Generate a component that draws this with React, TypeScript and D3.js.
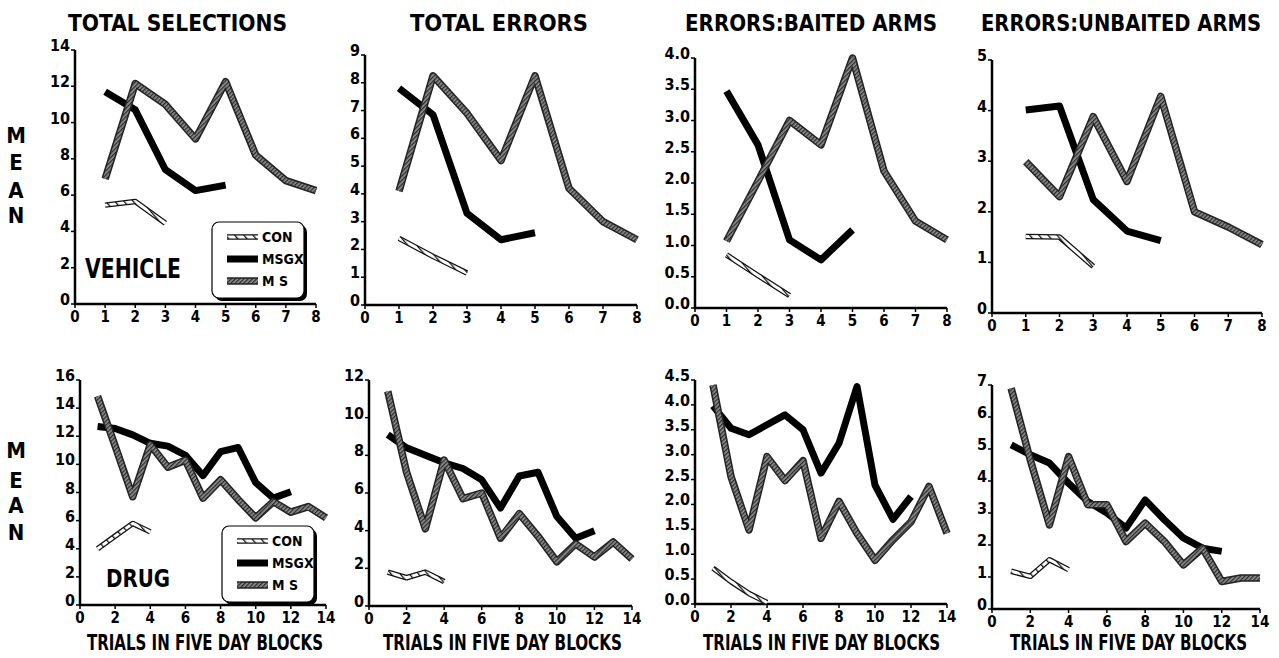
import React from 'react';
import * as d3 from 'd3';

// blocks of trials (x values)
const vehicleBlocks = [1, 2, 3, 4, 5, 6, 7, 8];
const drugBlocks = [1, 2, 3, 4, 5, 6, 7, 8, 9, 10, 11, 12, 13, 14];

// VEHICLE row
const selVehCON = [5.45, 5.65, 4.45];
const selVehMSGX = [11.7, 10.7, 7.4, 6.25, 6.55];
const selVehMS = [6.9, 12.15, 11.0, 9.1, 12.25, 8.2, 6.8, 6.25];

const errVehCON = [2.4, 1.75, 1.15];
const errVehMSGX = [7.8, 6.85, 3.3, 2.35, 2.6];
const errVehMS = [4.1, 8.25, 6.9, 5.2, 8.25, 4.2, 3.0, 2.35];

const baitVehCON = [0.85, 0.52, 0.2];
const baitVehMSGX = [3.47, 2.61, 1.09, 0.77, 1.25];
const baitVehMS = [1.07, 2.03, 3.0, 2.61, 4.0, 2.19, 1.39, 1.09];

const unbaitVehCON = [1.51, 1.5, 0.92];
const unbaitVehMSGX = [4.01, 4.09, 2.24, 1.62, 1.43];
const unbaitVehMS = [2.99, 2.3, 3.88, 2.6, 4.28, 2.0, 1.7, 1.35];

// DRUG row
const selDrugCON = [4.0, 4.9, 5.8, 5.2];
const selDrugMSGX = [12.7, 12.55, 12.1, 11.5, 11.3, 10.65, 9.2, 10.9, 11.2, 8.7, 7.6, 8.05];
const selDrugMS = [14.85, 11.3, 7.7, 11.4, 9.8, 10.3, 7.6, 8.9, 7.5, 6.2, 7.35, 6.6, 7.0, 6.2];

const errDrugCON = [1.8, 1.5, 1.8, 1.3];
const errDrugMSGX = [9.1, 8.4, 8.0, 7.6, 7.3, 6.7, 5.2, 6.9, 7.1, 4.75, 3.6, 4.0];
const errDrugMS = [11.4, 7.1, 4.1, 7.75, 5.7, 6.0, 3.6, 4.9, 3.7, 2.35, 3.3, 2.6, 3.4, 2.5];

const baitDrugCON = [0.72, 0.45, 0.21, 0.03];
const baitDrugMSGX = [3.98, 3.53, 3.4, 3.6, 3.8, 3.5, 2.63, 3.23, 4.37, 2.39, 1.7, 2.16];
const baitDrugMS = [4.4, 2.56, 1.49, 2.96, 2.48, 2.88, 1.32, 2.06, 1.42, 0.88, 1.29, 1.65, 2.36, 1.42];

const unbaitDrugCON = [1.18, 1.02, 1.54, 1.23];
const unbaitDrugMSGX = [5.13, 4.82, 4.56, 3.93, 3.36, 3.0, 2.53, 3.41, 2.79, 2.22, 1.9, 1.8];
const unbaitDrugMS = [6.9, 4.66, 2.63, 4.76, 3.26, 3.26, 2.11, 2.68, 2.11, 1.38, 1.9, 0.86, 0.97, 0.97];

const titles = ['TOTAL SELECTIONS', 'TOTAL ERRORS', 'ERRORS:BAITED ARMS', 'ERRORS:UNBAITED ARMS'];
const legendLabels = ['CON', 'MSGX', 'M S'];
const vehicleTicksX = [0, 1, 2, 3, 4, 5, 6, 7, 8];
const drugTicksX = [0, 2, 4, 6, 8, 10, 12, 14];

const FONT = "'DejaVu Sans Condensed','Liberation Sans Narrow','Roboto',sans-serif";

const panels = [
  { con: selVehCON, msgx: selVehMSGX, ms: selVehMS, blocks: vehicleBlocks, xt: vehicleTicksX, yMax: 14, yStep: 2, fmt: 'd',
    x0: 75, x1: 316, y0: 304, yTop: 50, title: titles[0], tx: 68, tw: 219 },
  { con: errVehCON, msgx: errVehMSGX, ms: errVehMS, blocks: vehicleBlocks, xt: vehicleTicksX, yMax: 9, yStep: 1, fmt: 'd',
    x0: 365, x1: 637, y0: 305, yTop: 55, title: titles[1], tx: 410, tw: 178 },
  { con: baitVehCON, msgx: baitVehMSGX, ms: baitVehMS, blocks: vehicleBlocks, xt: vehicleTicksX, yMax: 4, yStep: 0.5, fmt: '.1f',
    x0: 695, x1: 947, y0: 308, yTop: 58, title: titles[2], tx: 685, tw: 252 },
  { con: unbaitVehCON, msgx: unbaitVehMSGX, ms: unbaitVehMS, blocks: vehicleBlocks, xt: vehicleTicksX, yMax: 5, yStep: 1, fmt: 'd',
    x0: 992, x1: 1262, y0: 313, yTop: 60, title: titles[3], tx: 981, tw: 280 },
  { con: selDrugCON, msgx: selDrugMSGX, ms: selDrugMS, blocks: drugBlocks, xt: drugTicksX, yMax: 16, yStep: 2, fmt: 'd',
    x0: 80, x1: 326, y0: 605, yTop: 380, bx: 87, bw: 236 },
  { con: errDrugCON, msgx: errDrugMSGX, ms: errDrugMS, blocks: drugBlocks, xt: drugTicksX, yMax: 12, yStep: 2, fmt: 'd',
    x0: 369, x1: 632, y0: 606, yTop: 380, bx: 383, bw: 239 },
  { con: baitDrugCON, msgx: baitDrugMSGX, ms: baitDrugMS, blocks: drugBlocks, xt: drugTicksX, yMax: 4.5, yStep: 0.5, fmt: '.1f',
    x0: 695, x1: 947, y0: 604, yTop: 380, bx: 703, bw: 237 },
  { con: unbaitDrugCON, msgx: unbaitDrugMSGX, ms: unbaitDrugMS, blocks: drugBlocks, xt: drugTicksX, yMax: 7, yStep: 1, fmt: 'd',
    x0: 992, x1: 1260, y0: 609, yTop: 385, bx: 1010, bw: 237 },
];

const ConLine = ({ d }: { d: string }) => (
  <g fill="none" strokeLinejoin="round">
    <path d={d} stroke="#111" strokeWidth={5.5} />
    <path d={d} stroke="url(#conHatch)" strokeWidth={3} />
  </g>
);
const MsgxLine = ({ d }: { d: string }) => (
  <path d={d} fill="none" stroke="#000" strokeWidth={7} strokeLinejoin="round" />
);
const MsLine = ({ d }: { d: string }) => (
  <g fill="none" strokeLinejoin="round">
    <path d={d} stroke="#222" strokeWidth={7.5} />
    <path d={d} stroke="url(#msHatch)" strokeWidth={4.5} />
  </g>
);

function Panel({ p }: { p: any }) {
  const x = d3.scaleLinear().domain([0, p.xt[p.xt.length - 1]]).range([p.x0, p.x1]);
  const y = d3.scaleLinear().domain([0, p.yMax]).range([p.y0, p.yTop]);
  const line = d3.line<number>().x((_, i) => x(p.blocks[i])).y((v) => y(v));
  const yTicks = d3.range(0, p.yMax + p.yStep / 2, p.yStep);
  const f = d3.format(p.fmt);
  return (
    <g>
      {p.title && (
        <text x={p.tx} y={31} fontFamily={FONT} fontWeight="bold" fontSize={23}
          textLength={p.tw} lengthAdjust="spacingAndGlyphs">{p.title}</text>
      )}
      {/* axes */}
      <line x1={p.x0} x2={p.x0} y1={p.y0 + 1} y2={p.yTop} stroke="#000" strokeWidth={2.5} />
      <line x1={p.x0 - 1} x2={p.x1} y1={p.y0} y2={p.y0} stroke="#000" strokeWidth={2.5} />
      {yTicks.map((t) => (
        <g key={'y' + t}>
          <line x1={p.x0 - 4} x2={p.x0} y1={y(t)} y2={y(t)} stroke="#000" strokeWidth={1.5} />
          <text x={p.x0 - 5} y={y(t) + 1} textAnchor="end" fontFamily={FONT} fontWeight="bold"
            fontSize={16}>{f(t)}</text>
        </g>
      ))}
      {p.xt.map((t: number) => (
        <g key={'x' + t}>
          <line x1={x(t)} x2={x(t)} y1={p.y0} y2={p.y0 + 4} stroke="#000" strokeWidth={1.5} />
          <text x={x(t)} y={p.y0 + 18} textAnchor="middle" fontFamily={FONT} fontWeight="bold"
            fontSize={15}>{t}</text>
        </g>
      ))}
      {p.bx && (
        <g transform={`translate(${p.bx},650) scale(1,1.45)`}>
          <text x={0} y={0} fontFamily={FONT} fontWeight="bold" fontSize={15}
            textLength={p.bw} lengthAdjust="spacingAndGlyphs">TRIALS IN FIVE DAY BLOCKS</text>
        </g>
      )}
      <ConLine d={line(p.con) as string} />
      <MsgxLine d={line(p.msgx) as string} />
      <MsLine d={line(p.ms) as string} />
    </g>
  );
}

function Legend({ x, y }: { x: number; y: number }) {
  const rows = [0, 1, 2].map((i) => y + 15 + i * 22);
  const sample = (i: number) => `M${x + 15},${rows[i]}H${x + 46}`;
  return (
    <g>
      <rect x={x + 3} y={y + 3} width={92} height={76} rx={7} fill="#000" />
      <rect x={x} y={y} width={92} height={76} rx={7} fill="#fff" stroke="#000" strokeWidth={1.2} />
      <ConLine d={sample(0)} />
      <MsgxLine d={sample(1)} />
      <MsLine d={sample(2)} />
      {legendLabels.map((l, i) => (
        <text key={l} x={x + 50} y={rows[i] + 5} fontFamily={FONT} fontWeight="bold" fontSize={14}>{l}</text>
      ))}
    </g>
  );
}

function Mean({ ys }: { ys: number[] }) {
  return (
    <g>
      {['M', 'E', 'A', 'N'].map((c, i) => (
        <text key={c} x={16} y={ys[i]} textAnchor="middle" fontFamily={FONT} fontWeight="bold"
          fontSize={22}>{c}</text>
      ))}
    </g>
  );
}

export default function App() {
  return (
    <svg width={1279} height={658} style={{ position: 'absolute', left: 0, top: 0, background: '#fff' }}>
      <defs>
        <pattern id="msHatch" patternUnits="userSpaceOnUse" width={3} height={3} patternTransform="rotate(45)">
          <rect width={3} height={3} fill="#8f8f8f" />
          <rect width={1.3} height={3} fill="#2a2a2a" />
        </pattern>
        <pattern id="conHatch" patternUnits="userSpaceOnUse" width={7} height={7} patternTransform="rotate(-40)">
          <rect width={7} height={7} fill="#fff" />
          <rect width={1.3} height={7} fill="#111" />
        </pattern>
      </defs>
      <rect width={1279} height={658} fill="#fff" />
      {panels.map((p, i) => (
        <Panel key={i} p={p} />
      ))}
      <Mean ys={[143, 170, 198, 223]} />
      <Mean ys={[458, 488, 513, 540]} />
      <Legend x={212} y={222} />
      <Legend x={222} y={526} />
      <text x={85} y={278} fontFamily={FONT} fontWeight="bold" fontSize={27} textLength={96}
        lengthAdjust="spacingAndGlyphs">VEHICLE</text>
      <text x={106} y={587} fontFamily={FONT} fontWeight="bold" fontSize={24} textLength={64}
        lengthAdjust="spacingAndGlyphs">DRUG</text>
    </svg>
  );
}
